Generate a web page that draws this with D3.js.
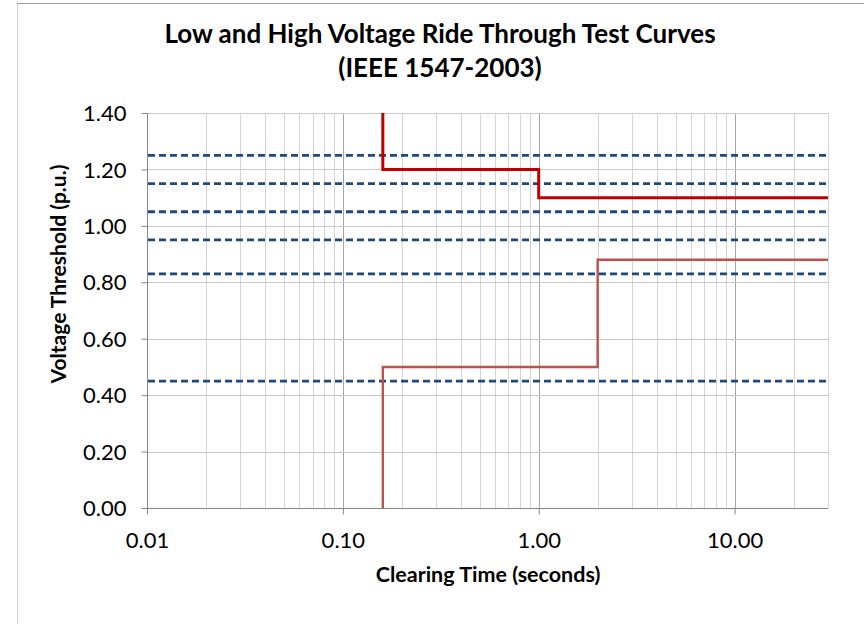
<!DOCTYPE html>
<meta charset="utf-8">
<style>
  body { margin: 0; background: #fff; }
  text { font-family: Lato, "Open Sans", sans-serif; fill: #000; }
</style>
<body>
<svg id="chart" width="864" height="624"></svg>
<script src="https://cdn.jsdelivr.net/npm/d3@7"></script>
<script>
  // data
  const xTickValues = [0.01, 0.1, 1, 10];
  const yTickValues = [0, 0.2, 0.4, 0.6, 0.8, 1.0, 1.2, 1.4];
  const testLevels = [1.25, 1.15, 1.05, 0.95, 0.83, 0.45];
  const highTimes = [0.16, 0.16, 1.0, 1.0, 30];
  const highVolts = [1.4, 1.2, 1.2, 1.1, 1.1];
  const lowTimes = [0.16, 0.16, 2.0, 2.0, 30];
  const lowVolts = [0, 0.5, 0.5, 0.88, 0.88];

  const svg = d3.select("#chart");
  const plotLeft = 147, plotRight = 828, plotTop = 113, plotBottom = 508;

  const x = d3.scaleLog().domain([0.01, 30]).range([plotLeft, plotRight]);
  const y = d3.scaleLinear().domain([0, 1.4]).range([plotBottom, plotTop]);

  // chart frame
  svg.append("line").attr("x1", 17.5).attr("x2", 17.5).attr("y1", 3).attr("y2", 624)
    .attr("stroke", "#d0d0d0");
  svg.append("line").attr("x1", 17).attr("x2", 864).attr("y1", 3.5).attr("y2", 3.5)
    .attr("stroke", "#9a9a9a");

  // minor vertical gridlines (log)
  const minor = [];
  for (let d = 0.01; d < 30; d *= 10) {
    for (let k = 2; k <= 9; k++) {
      const v = +(d * k).toPrecision(3);
      if (v <= 30) minor.push(v);
    }
  }
  svg.append("g").selectAll("line").data(minor).enter().append("line")
    .attr("x1", d => Math.round(x(d)) + 0.5).attr("x2", d => Math.round(x(d)) + 0.5)
    .attr("y1", plotTop).attr("y2", plotBottom)
    .attr("stroke", "#d4d4d4");

  // major vertical gridlines
  svg.append("g").selectAll("line").data(xTickValues.slice(1)).enter().append("line")
    .attr("x1", d => Math.round(x(d)) + 0.5).attr("x2", d => Math.round(x(d)) + 0.5)
    .attr("y1", plotTop).attr("y2", plotBottom)
    .attr("stroke", "#a6a6a6");

  // horizontal gridlines
  svg.append("g").selectAll("line").data(yTickValues.slice(1)).enter().append("line")
    .attr("x1", plotLeft).attr("x2", plotRight)
    .attr("y1", d => Math.round(y(d)) + 0.5).attr("y2", d => Math.round(y(d)) + 0.5)
    .attr("stroke", "#c8c8c8");

  // axes
  const xAxis = d3.axisBottom(x).tickValues(xTickValues).tickSize(6).tickPadding(18)
    .tickFormat(d3.format(".2f"));
  const gx = svg.append("g").attr("transform", `translate(0,${plotBottom + 0.5})`).call(xAxis);
  const yAxis = d3.axisLeft(y).tickValues(yTickValues).tickSize(6).tickPadding(15)
    .tickFormat(d3.format(".2f"));
  const gy = svg.append("g").attr("transform", `translate(${plotLeft + 0.5},0)`).call(yAxis);
  [gx, gy].forEach(g => {
    g.select(".domain").attr("stroke", "#868686");
    g.selectAll(".tick line").attr("stroke", "#868686");
    g.selectAll(".tick text").style("font-size", "22px").attr("fill", "#000");
  });
  gx.select(".domain").attr("d", `M${plotLeft},0H${plotRight}`);
  gy.select(".domain").attr("d", `M0,${plotBottom}V${plotTop}`);
  gy.selectAll(".tick text").attr("dy", "0.35em");

  // test level dashed lines
  svg.append("g").selectAll("line").data(testLevels).enter().append("line")
    .attr("x1", plotLeft + 1).attr("x2", plotRight)
    .attr("y1", d => y(d)).attr("y2", d => y(d))
    .attr("stroke", "#1f497d").attr("stroke-width", 2.8)
    .attr("stroke-dasharray", "7,4");

  const line = d3.line().x(d => x(d[0])).y(d => y(d[1]));

  svg.append("path")
    .attr("d", line(d3.zip(lowTimes, lowVolts)))
    .attr("fill", "none").attr("stroke", "#c0504d").attr("stroke-width", 2.4);

  svg.append("path")
    .attr("d", line(d3.zip(highTimes, highVolts)))
    .attr("fill", "none").attr("stroke", "#c00000").attr("stroke-width", 3);

  // titles
  svg.append("text").attr("x", 440).attr("y", 43).attr("text-anchor", "middle")
    .style("font-size", "26px").style("font-weight", "bold")
    .text("Low and High Voltage Ride Through Test Curves");
  svg.append("text").attr("x", 440).attr("y", 77).attr("text-anchor", "middle")
    .style("font-size", "26px").style("font-weight", "bold")
    .text("(IEEE 1547-2003)");

  svg.append("text").attr("x", 488).attr("y", 582).attr("text-anchor", "middle")
    .style("font-size", "21.5px").style("font-weight", "bold")
    .text("Clearing Time (seconds)");

  svg.append("text").attr("transform", "translate(66,274) rotate(-90)")
    .attr("text-anchor", "middle")
    .style("font-size", "21px").style("font-weight", "bold")
    .text("Voltage Threshold (p.u.)");
</script>
</body>
